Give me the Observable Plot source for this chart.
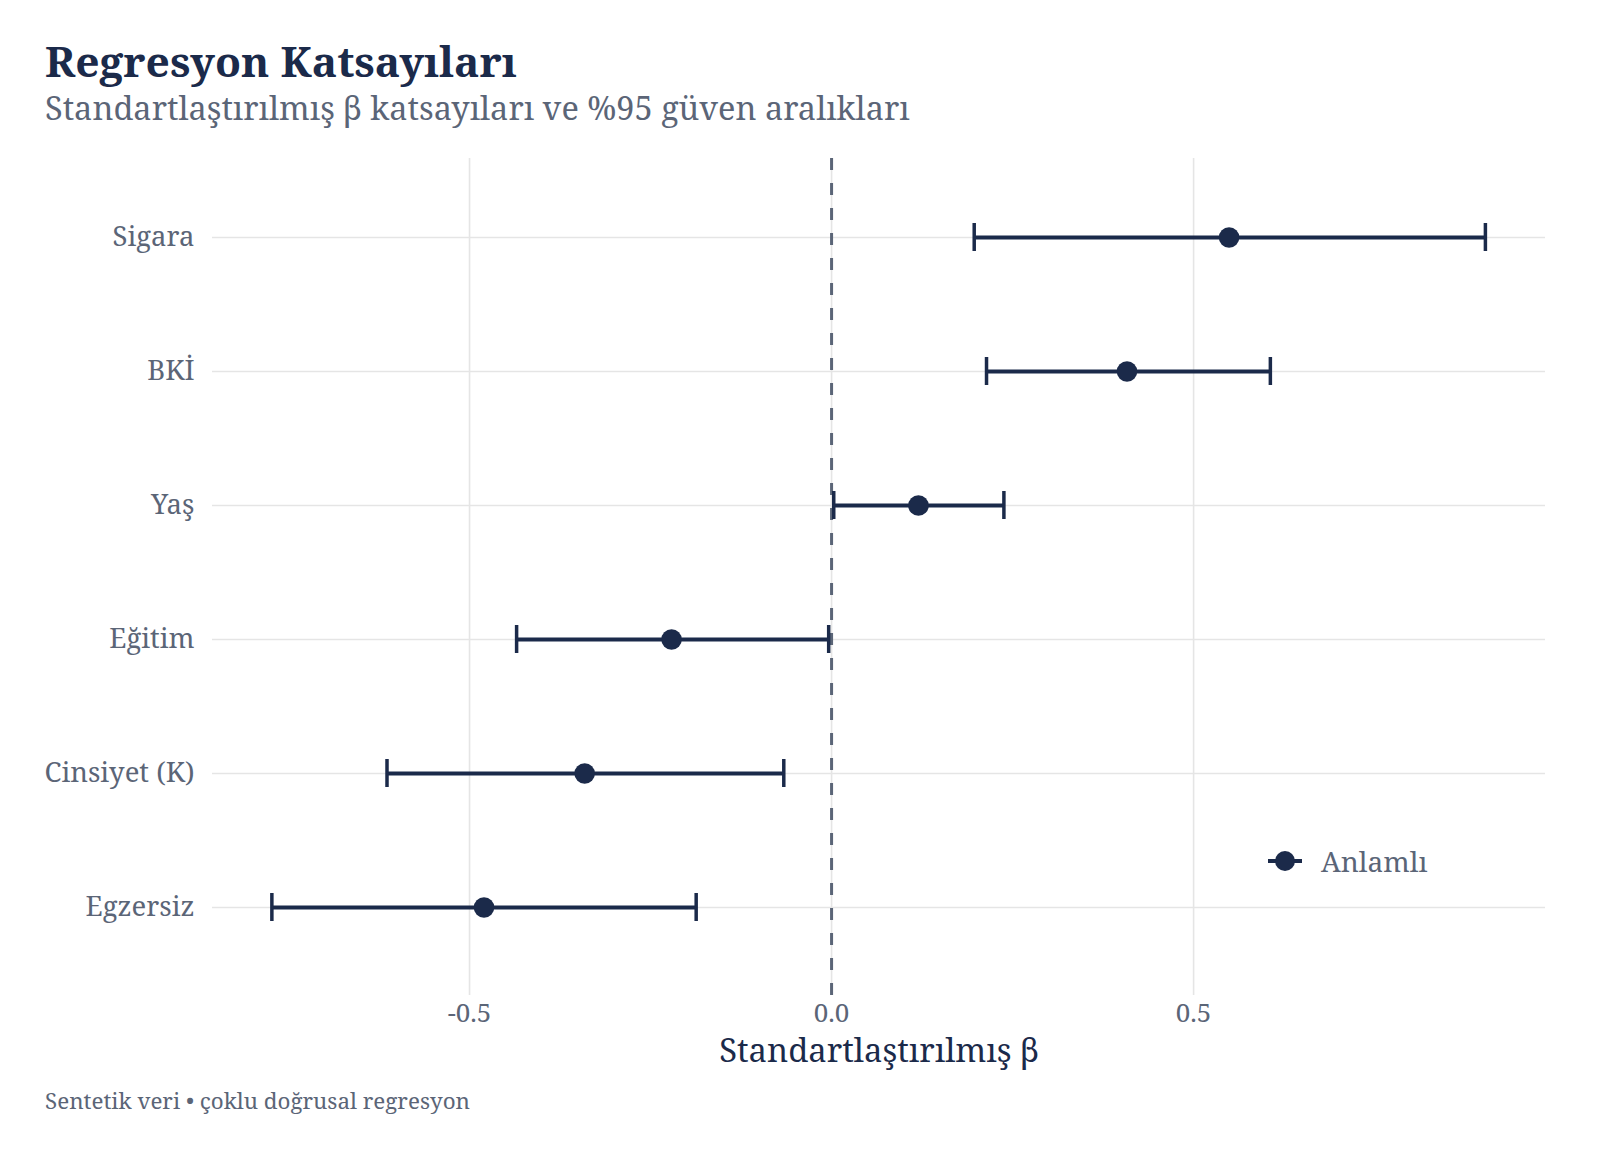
<!DOCTYPE html>
<html>
<head>
<meta charset="utf-8">
<script src="https://cdn.jsdelivr.net/npm/d3@7"></script>
<script src="https://cdn.jsdelivr.net/npm/@observablehq/plot@0.6"></script>
<style>
  html, body { margin: 0; padding: 0; background: #fff; }
  #wrap { position: relative; width: 1600px; height: 1150px; font-family: "Noto Serif", "DejaVu Serif", serif; overflow: hidden; }
  #title { position: absolute; left: 45px; top: 35px; font-size: 42.5px; font-weight: 700; color: #1b2a4a; white-space: nowrap; line-height: 1.2; }
  #subtitle { position: absolute; left: 45px; top: 88px; font-size: 32.5px; color: #5b6577; white-space: nowrap; line-height: 1.2; }
  #chart { position: absolute; left: 0; top: 140px; }
  #caption { position: absolute; left: 45px; top: 1088px; font-size: 22.4px; color: #5b6577; white-space: nowrap; line-height: 1.2; }
  #legend { position: absolute; left: 1267px; top: 842px; display: flex; align-items: center; font-size: 28px; color: #5b6577; }
  #legend svg { margin-right: 18px; }
</style>
</head>
<body>
<div id="wrap">
  <div id="title">Regresyon Katsayıları</div>
  <div id="subtitle">Standartlaştırılmış β katsayıları ve %95 güven aralıkları</div>
  <div id="chart"></div>
  <div id="legend"><svg width="36" height="24"><line x1="1" x2="35" y1="12" y2="12" stroke="#1b2a4a" stroke-width="4"/><circle cx="18" cy="12" r="10" fill="#1b2a4a"/></svg><span>Anlamlı</span></div>
  <div id="caption">Sentetik veri • çoklu doğrusal regresyon</div>
</div>
<script>
const predictors = ["Sigara", "BKİ", "Yaş", "Eğitim", "Cinsiyet (K)", "Egzersiz"];
const estimates  = [0.549, 0.408, 0.120, -0.221, -0.341, -0.480];
const lowerCI    = [0.197, 0.214, 0.003, -0.435, -0.614, -0.773];
const upperCI    = [0.903, 0.606, 0.238, -0.004, -0.066, -0.187];
const xTicks     = [-0.5, 0.0, 0.5];
const xLabel     = "Standartlaştırılmış β";

const rows = predictors.map((p, i) => ({term: p, est: estimates[i], lo: lowerCI[i], hi: upperCI[i]}));

const navy = "#1b2a4a";
const gray = "#5b6577";
const grid = "#e5e5e5";
const font = '"Noto Serif", "DejaVu Serif", serif';

const chart = Plot.plot({
  width: 1600,
  height: 940,
  marginLeft: 212,
  marginRight: 55,
  marginTop: 18,
  marginBottom: 85,
  style: {fontFamily: font, background: "transparent", overflow: "visible"},
  x: {domain: [-0.855, 0.986], ticks: xTicks},
  y: {type: "point", domain: predictors, range: [96, 767], padding: 0},
  marks: [
    Plot.gridX(xTicks, {stroke: grid, strokeOpacity: 1, strokeWidth: 1.6}),
    Plot.gridY(predictors, {stroke: grid, strokeOpacity: 1, strokeWidth: 1.6}),
    Plot.ruleX([0], {stroke: gray, strokeWidth: 3, strokeDasharray: "12,13"}),
    Plot.link(rows, {x1: "lo", x2: "hi", y1: "term", y2: "term", stroke: navy, strokeWidth: 4}),
    Plot.ruleX(rows, {x: "lo", y1: "term", y2: "term", stroke: navy, strokeWidth: 3.5, insetTop: -14, insetBottom: -14}),
    Plot.ruleX(rows, {x: "hi", y1: "term", y2: "term", stroke: navy, strokeWidth: 3.5, insetTop: -14, insetBottom: -14}),
    Plot.dot(rows, {x: "est", y: "term", r: 10.3, fill: navy, stroke: null}),
    Plot.axisX(xTicks, {tickSize: 0, tickPadding: 8, fontSize: 26, fill: gray, color: gray, label: null, tickFormat: d => d.toFixed(1)}),
    Plot.axisY(predictors, {tickSize: 0, tickPadding: 18, fontSize: 27.5, fill: gray, color: gray, label: null}),
    Plot.text([xLabel], {frameAnchor: "bottom", dy: 66, fontSize: 32.8, fill: navy, text: d => d})
  ]
});
document.getElementById("chart").appendChild(chart);
</script>
</body>
</html>
